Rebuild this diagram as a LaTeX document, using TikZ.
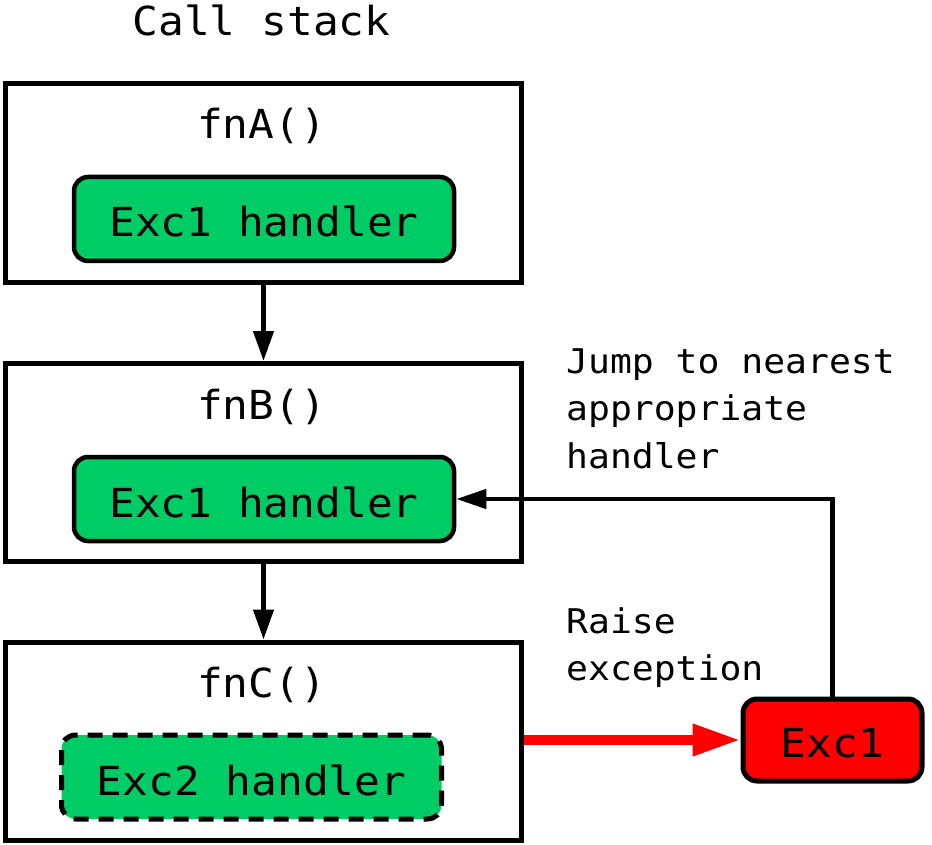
\documentclass[tikz,border=0pt]{standalone}
\usepackage{fontspec}
\setmainfont[FakeStretch=1.07]{DejaVu Sans Mono}
\usetikzlibrary{arrows.meta}
\definecolor{hgreen}{RGB}{0,204,102}
\definecolor{xred}{RGB}{255,0,0}
\begin{document}
\begin{tikzpicture}[x=1pt,y=-1pt,
  frame/.style={draw=black,line width=5pt,minimum width=516pt,minimum height=198pt,inner sep=0pt,fill=white},
  handler/.style={draw=black,line width=4.5pt,fill=hgreen,rounded corners=14pt,minimum width=380pt,minimum height=84pt,inner sep=0pt,
     font=\fontsize{40}{48}\selectfont,text height=36pt,text depth=0pt},
  excbox/.style={draw=black,line width=5pt,fill=xred,rounded corners=14pt,minimum width=179pt,minimum height=82pt,inner sep=0pt,
     font=\fontsize{40}{48}\selectfont,text height=35.5pt,text depth=0pt},
  fnlabel/.style={anchor=base,inner sep=0pt,font=\fontsize{40}{48}\selectfont},
  note/.style={anchor=north west,inner sep=0pt,align=left,font=\fontsize{34}{47.5}\selectfont},
  callarrow/.style={line width=4.5pt,-{Triangle[length=30pt,width=20pt]}},
  jumparrow/.style={line width=4.5pt,-{Triangle[length=30pt,width=19pt]}},
  raisearrow/.style={draw=xred,line width=10pt,-{Triangle[length=48pt,width=30pt]}}
]
\useasboundingbox (0,0) rectangle (932,845);

\node[fnlabel] (title) at (261.5,36) {Call stack};

\node[frame] (A) at (263.5,183) {};
\node[fnlabel] (fa) at (261.5,139) {fnA()};
\node[handler] (HA) at (264,219) {Exc1 handler};

\node[frame] (B) at (263.5,462.5) {};
\node[fnlabel] (fb) at (261.5,419) {fnB()};
\node[handler] (HB) at (264,499) {Exc1 handler};

\node[frame] (C) at (263.5,741) {};
\node[fnlabel] (fc) at (261.5,697) {fnC()};
\node[handler,line width=5pt,dash pattern=on 15pt off 10pt] (HC) at (251.5,777) {Exc2 handler};

\node[excbox] (X) at (832.5,740) {Exc1};

\node[note] (jump) at (566,343) {\rule{0pt}{30pt}Jump to nearest\\appropriate\\handler};
\node[note] (raise) at (566,603) {\rule{0pt}{30pt}Raise\\exception};

\draw[callarrow] (A.south) -- (B.north);
\draw[callarrow] (B.south) -- (C.north);
\draw[raisearrow] (C.east |- X.west) -- (X.west);
\draw[jumparrow] (X.north) -- (X.north |- HB.east) -- (HB.east);
\end{tikzpicture}
\end{document}
